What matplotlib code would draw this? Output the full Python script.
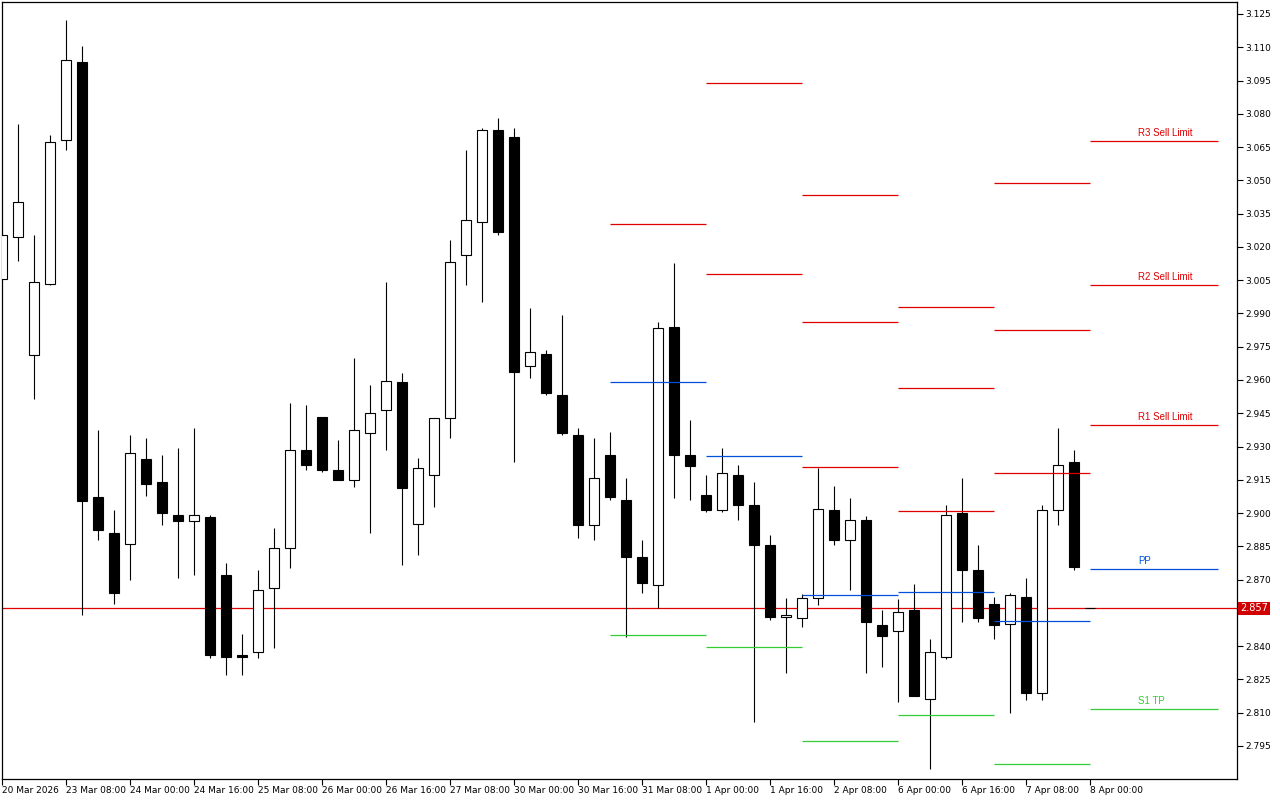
import numpy as np
import matplotlib
matplotlib.use('Agg')
import matplotlib.pyplot as plt
from matplotlib import transforms

# 4H candles, index 0 = 20 Mar 2026 16:00
opens = [3.0055, 3.0245, 2.9713, 3.0033, 3.0682, 3.1034, 2.9072, 2.8910, 2.8860, 2.9244,
         2.9140, 2.8990, 2.8964, 2.8982, 2.8720, 2.8360, 2.8374, 2.8662, 2.8842, 2.9284,
         2.9433, 2.9194, 2.9149, 2.9360, 2.9464, 2.9590, 2.8950, 2.9170, 2.9430, 3.0163,
         3.0312, 3.0727, 3.0695, 2.9663, 2.9717, 2.9532, 2.9351, 2.8946, 2.9262, 2.9059,
         2.8802, 2.8676, 2.9839, 2.9262, 2.9081, 2.9014, 2.9171, 2.9036, 2.8856, 2.8530,
         2.8527, 2.8617, 2.9014, 2.8879, 2.8969, 2.8495, 2.8469, 2.8563, 2.8162, 2.8350,
         2.9000, 2.8743, 2.8590, 2.8500, 2.8621, 2.8189, 2.9014, 2.9230, 2.8570]
highs = [3.0254, 3.0754, 3.0254, 3.0704, 3.1223, 3.1106, 2.9374, 2.9014, 2.9350, 2.9338,
         2.9260, 2.9293, 2.9384, 2.8990, 2.8775, 2.8455, 2.8743, 2.8933, 2.9496, 2.9487,
         2.9433, 2.9330, 2.9700, 2.9577, 3.0040, 2.9630, 2.9250, 2.9430, 3.0230, 3.0637,
         3.0736, 3.0781, 3.0736, 2.9924, 2.9735, 2.9893, 2.9384, 2.9338, 2.9365, 2.9158,
         2.8879, 2.9861, 3.0127, 2.9420, 2.9171, 2.9293, 2.9217, 2.9140, 2.8901, 2.8617,
         2.8635, 2.9203, 2.9122, 2.9068, 2.8987, 2.8563, 2.8612, 2.8680, 2.8432, 2.9036,
         2.9158, 2.8856, 2.8621, 2.8640, 2.8707, 2.9036, 2.9384, 2.9284, 2.8570]
lows = [3.0055, 3.0136, 2.9514, 3.0030, 3.0637, 2.8540, 2.8879, 2.8590, 2.8700, 2.9077,
        2.8946, 2.8707, 2.8720, 2.8347, 2.8270, 2.8270, 2.8347, 2.8392, 2.8752, 2.9194,
        2.9185, 2.9149, 2.9117, 2.8910, 2.9284, 2.8766, 2.8810, 2.9027, 2.9340, 3.0028,
        2.9952, 3.0254, 2.9230, 2.9609, 2.9532, 2.9351, 2.8888, 2.8879, 2.9059, 2.8441,
        2.8640, 2.8572, 2.9068, 2.9059, 2.9005, 2.9005, 2.8968, 2.8058, 2.8518, 2.8279,
        2.8486, 2.8585, 2.8856, 2.8653, 2.8279, 2.8306, 2.8148, 2.8175, 2.7846, 2.8340,
        2.8509, 2.8509, 2.8432, 2.8099, 2.8157, 2.8157, 2.8946, 2.8743, 2.8570]
closes = [3.0254, 3.0402, 3.0042, 3.0673, 3.1043, 2.9054, 2.8924, 2.8640, 2.9270, 2.9130,
          2.9000, 2.8964, 2.8990, 2.8360, 2.8350, 2.8350, 2.8653, 2.8842, 2.9284, 2.9217,
          2.9194, 2.9149, 2.9374, 2.9450, 2.9595, 2.9113, 2.9203, 2.9430, 3.0132, 3.0321,
          3.0727, 3.0267, 2.9636, 2.9726, 2.9541, 2.9360, 2.8946, 2.9158, 2.9072, 2.8802,
          2.8685, 2.9834, 2.9262, 2.9212, 2.9014, 2.9180, 2.9036, 2.8856, 2.8531, 2.8540,
          2.8617, 2.9018, 2.8879, 2.8969, 2.8509, 2.8446, 2.8554, 2.8175, 2.8374, 2.8990,
          2.8743, 2.8527, 2.8495, 2.8631, 2.8189, 2.9014, 2.9217, 2.8757, 2.8570]

# daily pivot levels (31 Mar .. 8 Apr), bar index where each day starts / ends
day_start = [38, 44, 50, 56, 62, 68]
day_end = [44, 50, 56, 62, 68, 76]
r3 = [None, None, 3.0434, 2.9929, 3.0488, 3.0677]
r2 = [None, 3.0939, 2.9861, 2.9564, 2.9825, 3.0028]
r1 = [3.0303, 3.0078, 2.9208, 2.9009, 2.9181, 2.9397]
pp = [2.9591, 2.9257, 2.8630, 2.8644, 2.8513, 2.8748]
s1 = [2.8450, 2.8396, 2.7972, 2.8090, 2.7869, 2.8117]
last_labels = ['R3 Sell Limit', 'R2 Sell Limit', 'R1 Sell Limit', 'PP', 'S1 TP']

bid = 2.857

time_ticks = [0, 4, 8, 12, 16, 20, 24, 28, 32, 36, 40, 44, 48, 52, 56, 60, 64, 68]
time_labels = ['20 Mar 2026', '23 Mar 08:00', '24 Mar 00:00', '24 Mar 16:00', '25 Mar 08:00',
               '26 Mar 00:00', '26 Mar 16:00', '27 Mar 08:00', '30 Mar 00:00', '30 Mar 16:00',
               '31 Mar 08:00', '1 Apr 00:00', '1 Apr 16:00', '2 Apr 08:00', '6 Apr 00:00',
               '6 Apr 16:00', '7 Apr 08:00', '8 Apr 00:00']
price_ticks = np.arange(2.795, 3.1251, 0.015)

RED = '#E00000'
BLUE = '#0050DC'
GREEN = '#32CD32'

fig = plt.figure(figsize=(12.8, 8), dpi=100)
W, H = 1280.0, 800.0
ax = fig.add_axes([2 / W, 21 / H, 1235 / W, 777 / H])

x = np.arange(len(opens))
o = np.array(opens)
c = np.array(closes)
up = c >= o

ax.vlines(x, lows, highs, color='black', linewidth=0.8, zorder=2)
body_low = np.minimum(o, c)
body_h = np.abs(c - o)
ax.bar(x[up], body_h[up], bottom=body_low[up], width=0.58, facecolor='white',
       edgecolor='black', linewidth=0.8, zorder=3)
ax.bar(x[~up], body_h[~up], bottom=body_low[~up], width=0.58, facecolor='black',
       edgecolor='black', linewidth=0.8, zorder=3)

# pivot segments
for levels, col in [(r3, RED), (r2, RED), (r1, RED), (pp, BLUE), (s1, GREEN)]:
    for d in range(len(day_start)):
        if levels[d] is not None:
            ax.hlines(levels[d], day_start[d], day_end[d], color=col, linewidth=0.9, zorder=4)

for lab, lev, col in zip(last_labels, [r3[-1], r2[-1], r1[-1], pp[-1], s1[-1]],
                         [RED, RED, RED, BLUE, GREEN]):
    ax.annotate(lab, (71, lev), xytext=(0, 2), textcoords='offset points',
                ha='left', va='bottom', color=col, fontsize=7, family='Liberation Sans')

# bid line
ax.axhline(bid, color=RED, linewidth=0.9, zorder=1)
trans = transforms.blended_transform_factory(ax.transAxes, ax.transData)
ax.text(1.0025, bid, '%.3f' % bid, transform=trans, ha='left', va='center', color='white',
        fontsize=7, zorder=10, clip_on=False,
        bbox=dict(facecolor='#D00000', edgecolor='none', pad=1.2))

ax.set_xlim(0, 1235 / 16.0)
ax.set_ylim(3.125 - 765 / 2218.0, 3.125 + 12 / 2218.0)

ax.yaxis.tick_right()
ax.set_yticks(price_ticks)
# the 2.855 label sits under the bid box, as in the terminal
ax.set_yticklabels(['' if abs(p - 2.855) < 1e-6 else '%.3f' % p for p in price_ticks])
ax.set_xticks(time_ticks)
ax.set_xticklabels(time_labels, ha='left')
ax.tick_params(axis='both', direction='out', length=4, width=0.8, labelsize=6.5, pad=1)
ax.tick_params(axis='y', pad=2)
for sp in ax.spines.values():
    sp.set_linewidth(0.9)

fig.savefig('out.png', dpi=100, facecolor='white')
